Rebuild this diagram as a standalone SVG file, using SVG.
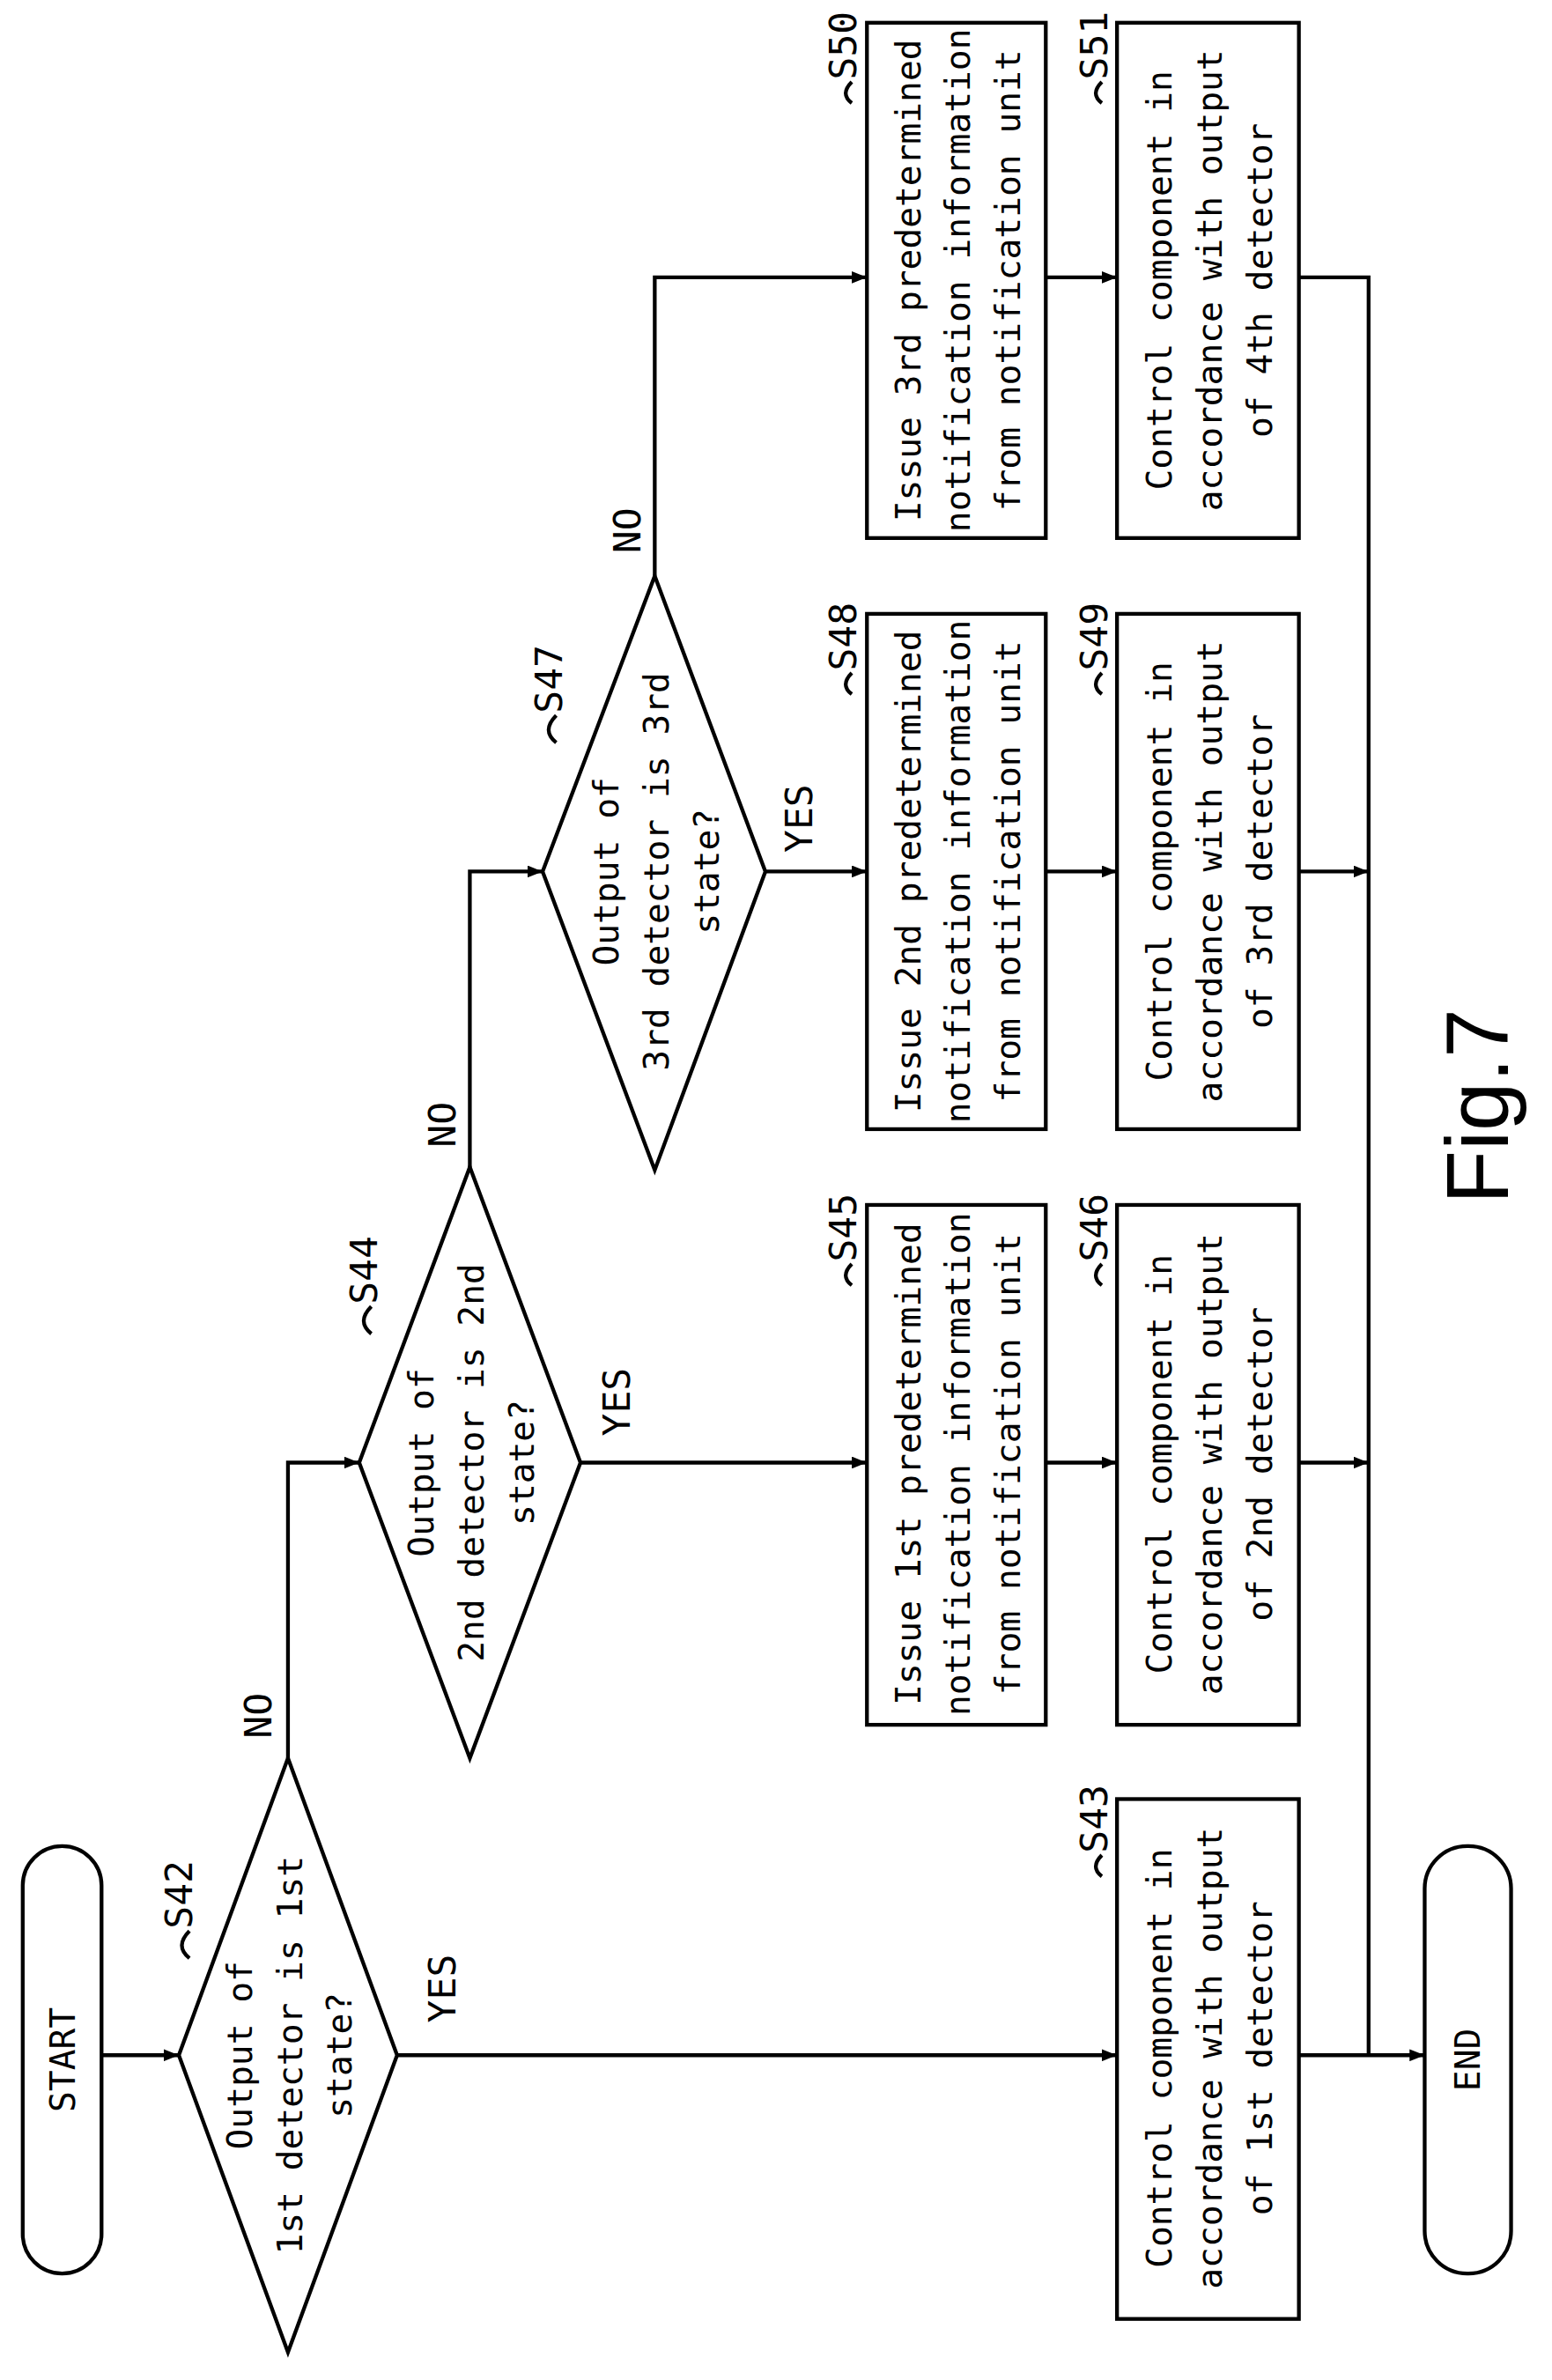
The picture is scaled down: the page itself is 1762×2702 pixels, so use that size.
<svg xmlns="http://www.w3.org/2000/svg" width="1762" height="2702" viewBox="0 0 1762 2702">
<defs>
<marker id="ah" markerWidth="10" markerHeight="8" refX="10" refY="4" orient="auto" markerUnits="userSpaceOnUse"><path d="M0,0 L10,4 L0,8 Z" fill="#000"/></marker>
<style>
.s{fill:none;stroke:#000;stroke-width:2.5}
.t{font-family:"DejaVu Sans Mono","Liberation Mono",monospace;font-size:23px;text-anchor:middle;dominant-baseline:central}
.l{font-family:"DejaVu Sans Mono","Liberation Mono",monospace;font-size:25px;text-anchor:middle;dominant-baseline:central}
.c{fill:none;stroke:#000;stroke-width:2.5;marker-end:url(#ah)}
</style>
</defs>
<rect width="1762" height="2702" fill="#fff"/>
<g transform="scale(1.7207)">
<g id="connectors">
<path class="c" d="M67,1356 H118"/>
<path class="c" d="M262,1356 H737"/>
<path class="c" d="M857,1356 H940"/>
<path class="c" d="M190,1160 V965 H237"/>
<path class="c" d="M383,965 H572"/>
<path class="c" d="M690,965 H737"/>
<path class="c" d="M857,965 H903"/>
<path class="c" d="M310,770 V575 H358"/>
<path class="c" d="M505,575 H572"/>
<path class="c" d="M690,575 H737"/>
<path class="c" d="M857,575 H903"/>
<path class="c" d="M432,380 V183 H572"/>
<path class="c" d="M690,183 H737"/>
<path class="s" d="M857,183 H903 V1356"/>
<path class="s" d="M125,1292 q-10,-8 0,-18"/>
<path class="s" d="M245,880 q-10,-8 0,-18"/>
<path class="s" d="M367,490 q-10,-8 0,-18"/>
<path class="s" d="M562,848 q-8,-6 0,-14"/>
<path class="s" d="M727,848 q-8,-6 0,-14"/>
<path class="s" d="M727,1238 q-8,-6 0,-14"/>
<path class="s" d="M562,458 q-8,-6 0,-14"/>
<path class="s" d="M727,458 q-8,-6 0,-14"/>
<path class="s" d="M562,68 q-8,-6 0,-14"/>
<path class="s" d="M727,68 q-8,-6 0,-14"/>
<text class="l" transform="translate(292,1312) rotate(-90)">YES</text>
<text class="l" transform="translate(170,1132) rotate(-90)">NO</text>
<text class="l" transform="translate(407,925) rotate(-90)">YES</text>
<text class="l" transform="translate(292,742) rotate(-90)">NO</text>
<text class="l" transform="translate(527,540) rotate(-90)">YES</text>
<text class="l" transform="translate(414,350) rotate(-90)">NO</text>
</g>
<g id="start"><rect class="s" x="15" y="1218" width="52" height="282" rx="26"/><text class="t" transform="translate(41,1359) rotate(-90)">START</text></g>
<g id="end"><rect class="s" x="940" y="1218" width="57" height="282" rx="28"/><text class="t" transform="translate(968,1359) rotate(-90)">END</text></g>
<g id="S42"><path class="s" d="M118,1356 L190,1160 L262,1356 L190,1552 Z"/>
<text class="t" transform="translate(158,1356) rotate(-90)">Output of</text>
<text class="t" transform="translate(191,1356) rotate(-90)">1st detector is 1st</text>
<text class="t" transform="translate(224,1356) rotate(-90)">state?</text>
<text class="l" transform="translate(118,1250) rotate(-90)">S42</text></g>
<g id="S44"><path class="s" d="M237,965 L310,770 L383,965 L310,1160 Z"/>
<text class="t" transform="translate(278,965) rotate(-90)">Output of</text>
<text class="t" transform="translate(311,965) rotate(-90)">2nd detector is 2nd</text>
<text class="t" transform="translate(344,965) rotate(-90)">state?</text>
<text class="l" transform="translate(240,838) rotate(-90)">S44</text></g>
<g id="S47"><path class="s" d="M358,575 L432,380 L505,575 L432,772 Z"/>
<text class="t" transform="translate(400,575) rotate(-90)">Output of</text>
<text class="t" transform="translate(433,575) rotate(-90)">3rd detector is 3rd</text>
<text class="t" transform="translate(466,575) rotate(-90)">state?</text>
<text class="l" transform="translate(362,448) rotate(-90)">S47</text></g>
<g id="S43"><rect class="s" x="737" y="1187" width="120" height="343"/>
<text class="t" transform="translate(765,1358) rotate(-90)">Control component in</text>
<text class="t" transform="translate(798,1358) rotate(-90)">accordance with output</text>
<text class="t" transform="translate(831,1358) rotate(-90)">of 1st detector</text>
<text class="l" transform="translate(722,1200) rotate(-90)">S43</text></g>
<g id="S45"><rect class="s" x="572" y="795" width="118" height="343"/>
<text class="t" transform="translate(599,966) rotate(-90)">Issue 1st predetermined</text>
<text class="t" transform="translate(632,966) rotate(-90)">notification information</text>
<text class="t" transform="translate(665,966) rotate(-90)">from notification unit</text>
<text class="l" transform="translate(556,810) rotate(-90)">S45</text></g>
<g id="S46"><rect class="s" x="737" y="795" width="120" height="343"/>
<text class="t" transform="translate(765,966) rotate(-90)">Control component in</text>
<text class="t" transform="translate(798,966) rotate(-90)">accordance with output</text>
<text class="t" transform="translate(831,966) rotate(-90)">of 2nd detector</text>
<text class="l" transform="translate(722,810) rotate(-90)">S46</text></g>
<g id="S48"><rect class="s" x="572" y="405" width="118" height="340"/>
<text class="t" transform="translate(599,575) rotate(-90)">Issue 2nd predetermined</text>
<text class="t" transform="translate(632,575) rotate(-90)">notification information</text>
<text class="t" transform="translate(665,575) rotate(-90)">from notification unit</text>
<text class="l" transform="translate(556,420) rotate(-90)">S48</text></g>
<g id="S49"><rect class="s" x="737" y="405" width="120" height="340"/>
<text class="t" transform="translate(765,575) rotate(-90)">Control component in</text>
<text class="t" transform="translate(798,575) rotate(-90)">accordance with output</text>
<text class="t" transform="translate(831,575) rotate(-90)">of 3rd detector</text>
<text class="l" transform="translate(722,420) rotate(-90)">S49</text></g>
<g id="S50"><rect class="s" x="572" y="15" width="118" height="340"/>
<text class="t" transform="translate(599,185) rotate(-90)">Issue 3rd predetermined</text>
<text class="t" transform="translate(632,185) rotate(-90)">notification information</text>
<text class="t" transform="translate(665,185) rotate(-90)">from notification unit</text>
<text class="l" transform="translate(556,30) rotate(-90)">S50</text></g>
<g id="S51"><rect class="s" x="737" y="15" width="120" height="340"/>
<text class="t" transform="translate(765,185) rotate(-90)">Control component in</text>
<text class="t" transform="translate(798,185) rotate(-90)">accordance with output</text>
<text class="t" transform="translate(831,185) rotate(-90)">of 4th detector</text>
<text class="l" transform="translate(722,30) rotate(-90)">S51</text></g>
<text transform="translate(975,730) rotate(-90)" style="font-family:'Liberation Sans',Arial,sans-serif;font-size:58px;text-anchor:middle;dominant-baseline:central">Fig.7</text>
</g>
</svg>
